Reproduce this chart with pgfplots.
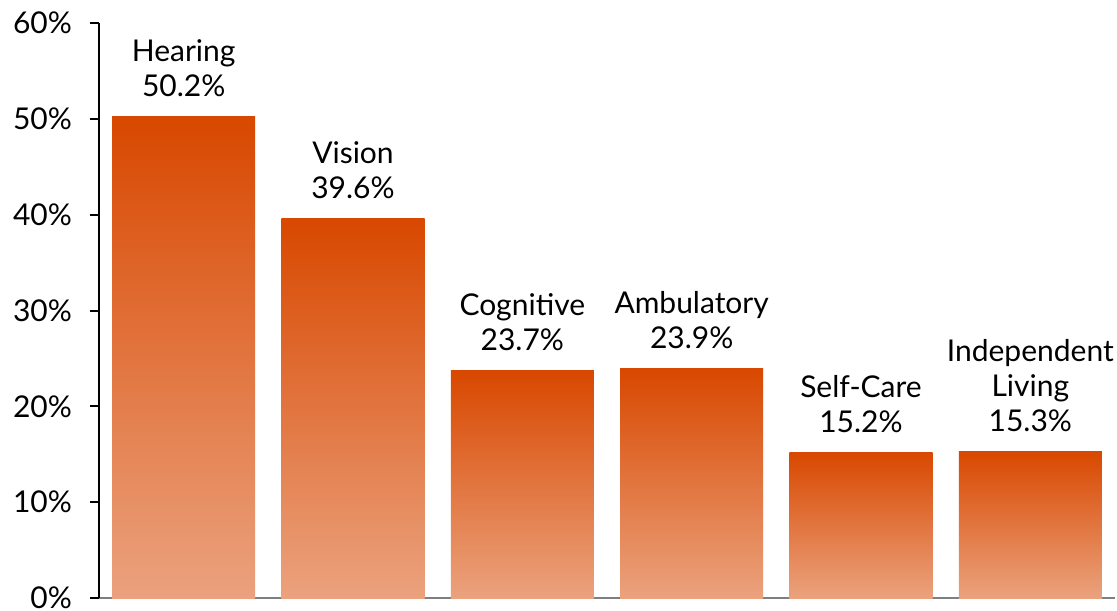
\documentclass[border=0pt]{standalone}
\usepackage{fontspec}
\setmainfont{Lato}
\usepackage{pgfplots}
\usepackage{pgfplotstable}
\pgfplotsset{compat=1.18}
\definecolor{bartop}{HTML}{D84800}
\definecolor{barbot}{HTML}{EBA27E}
\definecolor{axgray}{HTML}{7F7F7F}
\pgfplotstableread[col sep=comma]{
x,y,label
0,50.2,{Hearing\\50.2\%}
1,39.6,{Vision\\39.6\%}
2,23.7,{Cognitive\\23.7\%}
3,23.9,{Ambulatory\\23.9\%}
4,15.2,{Self-Care\\15.2\%}
5,15.3,{Independent\\Living\\15.3\%}
}\data
\begin{document}
\begin{tikzpicture}
\begin{axis}[
  at={(0,0)}, anchor=south west,
  scale only axis,
  width=508pt, height=287.5pt,
  xmin=-0.5, xmax=5.5,
  ymin=0, ymax=60,
  ytick={0,10,...,60},
  yticklabel={\pgfmathprintnumber{\tick}\%},
  /pgf/number format/assume math mode=true,
  xtick=\empty,
  axis x line=bottom, axis y line=left,
  axis line style={-},
  y axis line style={black, line width=1pt},
  x axis line style={axgray, line width=1pt},
  tick align=outside,
  major tick length=4.5pt,
  ytick style={black, line width=1pt},
  yticklabel style={font=\fontsize{15}{17}\selectfont, xshift=-5.5pt},
  clip=false,
]
\pgfplotsinvokeforeach{0,...,5}{
\addplot[ybar, bar width=0.845, bar shift=0pt, draw=none, top color=bartop, bottom color=barbot,
  restrict x to domain=#1:#1,
  point meta=explicit symbolic,
  nodes near coords,
  nodes near coords style={font=\fontsize{15}{17.5}\selectfont, align=center, anchor=south, yshift=6.5pt, text=black},
] table[x=x, y=y, meta=label] {\data};
}
\end{axis}
\pgfresetboundingbox
\path[use as bounding box] (-49.5pt,-6pt) rectangle (509pt,299pt);
\end{tikzpicture}
\end{document}
